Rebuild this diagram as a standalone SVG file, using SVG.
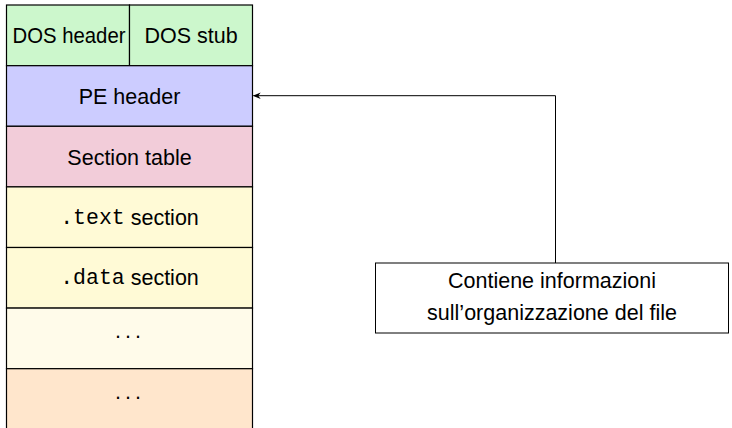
<svg xmlns="http://www.w3.org/2000/svg" width="732" height="428" viewBox="0 0 732 428">
  <defs>
    <marker id="arr" viewBox="0 0 10 10" refX="9" refY="5" markerWidth="8" markerHeight="8" markerUnits="userSpaceOnUse" orient="auto-start-reverse">
      <path d="M0,1 L10,5 L0,9 L3,5 Z" fill="#000"/>
    </marker>
  </defs>
  <style>
    .cell { stroke: #000; stroke-width: 1.2; }
    .lbl { font-family: "Liberation Sans", "DejaVu Sans", sans-serif; font-size: 21.5px; fill: #000; text-anchor: middle; dominant-baseline: central; }
    .tt { font-family: "Liberation Mono", "DejaVu Sans Mono", monospace; }
    .edge { fill: none; stroke: #000; stroke-width: 1; }
  </style>
  <rect width="732" height="428" fill="#fff"/>

  <!-- PE file layout stack -->
  <g id="dos-header">
    <rect class="cell" x="6.5" y="5" width="123" height="60.7" fill="#ccf7cc"/>
    <text class="lbl" x="69" y="36" textLength="113" lengthAdjust="spacingAndGlyphs">DOS header</text>
  </g>
  <g id="dos-stub">
    <rect class="cell" x="129.5" y="5" width="123" height="60.7" fill="#ccf7cc"/>
    <text class="lbl" x="191" y="36">DOS stub</text>
  </g>
  <g id="pe-header">
    <rect class="cell" x="6.5" y="65.7" width="246" height="60.6" fill="#ccccff"/>
    <text class="lbl" x="129.5" y="97">PE header</text>
  </g>
  <g id="section-table">
    <rect class="cell" x="6.5" y="126.3" width="246" height="60.6" fill="#f2ccd9"/>
    <text class="lbl" x="129.5" y="157.5">Section table</text>
  </g>
  <g id="text-section">
    <rect class="cell" x="6.5" y="186.9" width="246" height="60.6" fill="#fffad6"/>
    <text class="lbl" x="129.5" y="218"><tspan class="tt">.text</tspan> section</text>
  </g>
  <g id="data-section">
    <rect class="cell" x="6.5" y="247.5" width="246" height="60.6" fill="#fffad6"/>
    <text class="lbl" x="129.5" y="278"><tspan class="tt">.data</tspan> section</text>
  </g>
  <g id="more-sections">
    <rect class="cell" x="6.5" y="308.1" width="246" height="60.6" fill="#fffbea"/>
    <text class="lbl" x="127.5" y="331" letter-spacing="-1">. . .</text>
  </g>
  <g id="overlay">
    <rect class="cell" x="6.5" y="368.7" width="246" height="62" fill="#ffe6cc"/>
    <text class="lbl" x="127.5" y="392" letter-spacing="-1">. . .</text>
  </g>

  <!-- Note box -->
  <g id="note">
    <rect x="375.5" y="263" width="353" height="70" fill="#fff" stroke="#000" stroke-width="1"/>
    <text class="lbl" x="552" y="281">Contiene informazioni</text>
    <text class="lbl" x="552" y="313">sull’organizzazione del file</text>
  </g>

  <!-- Connectors -->
  <g id="connectors">
    <path class="edge" d="M555.5,263 V95.7 H253.5" marker-end="url(#arr)"/>
  </g>
</svg>
